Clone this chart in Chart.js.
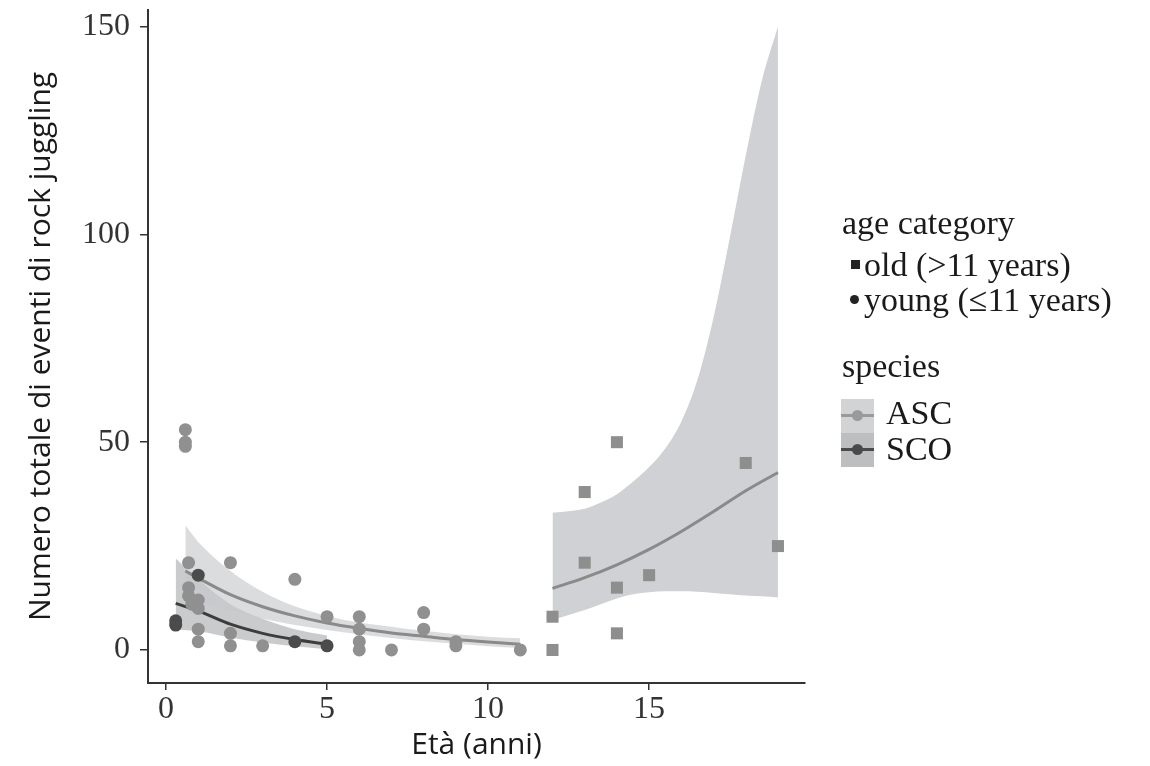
<!DOCTYPE html>
<html>
<head>
<meta charset="utf-8">
<script src="https://cdn.jsdelivr.net/npm/chart.js@4.4.0/dist/chart.umd.min.js"></script>
<style>
  body { margin: 0; background: #fff; }
  #wrap { position: relative; width: 1150px; height: 766px; }
  .lg { position: absolute; font-family: "Liberation Serif", "DejaVu Serif", serif; font-size: 34px; color: #1a1a1a; line-height: 34px; white-space: nowrap; }
  .sym { position: absolute; background: #222; }
  .key { position: absolute; width: 33px; height: 34px; }
  .kline { position: absolute; left: 0; top: 15px; width: 33px; height: 3px; }
  .kdot { position: absolute; left: 11px; top: 11px; width: 11px; height: 11px; border-radius: 50%; }
</style>
</head>
<body>
<div id="wrap">
  <canvas id="chart" width="1150" height="766"></canvas>
  <div class="lg" style="left:842px; top:206px;">age category</div>
  <div class="sym" style="left:851px; top:260px; width:9px; height:9px;"></div>
  <div class="lg" style="left:864px; top:248px;">old (&gt;11 years)</div>
  <div class="sym" style="left:850px; top:295px; width:9px; height:9px; border-radius:50%;"></div>
  <div class="lg" style="left:864px; top:283px;">young (≤11 years)</div>
  <div class="lg" style="left:842px; top:349px;">species</div>
  <div class="key" style="left:841px; top:399px; background:#d2d3d4;">
    <div class="kline" style="background:#9a9a9a;"></div><div class="kdot" style="background:#9a9a9a;"></div>
  </div>
  <div class="key" style="left:841px; top:433px; background:#bdbebf;">
    <div class="kline" style="background:#4a4a4a;"></div><div class="kdot" style="background:#4a4a4a;"></div>
  </div>
  <div class="lg" style="left:886px; top:396px;">ASC</div>
  <div class="lg" style="left:886px; top:432px;">SCO</div>
</div>
<script>
// --- DATI ---
// ASC giovani (cerchi grigi)
const ascYoungAge   = [0.6, 0.6, 0.6, 0.7, 0.7, 0.7, 0.8, 1, 1, 1, 1, 2, 2, 2, 3, 4, 5, 6, 6, 6, 6, 7, 8, 8, 9, 9, 11];
const ascYoungCount = [53, 50, 49, 21, 15, 13, 11, 12, 10, 5, 2, 21, 4, 1, 1, 17, 8, 8, 5, 2, 0, 0, 9, 5, 1, 2, 0];
// SCO giovani (cerchi scuri)
const scoYoungAge   = [0.3, 0.3, 1, 4, 5];
const scoYoungCount = [7, 6, 18, 2, 1];
// ASC vecchi (quadrati)
const oldAge   = [12, 12, 13, 13, 14, 14, 14, 15, 18, 19];
const oldCount = [8, 0, 38, 21, 50, 15, 4, 18, 45, 25];

// curve del modello + intervalli di confidenza
const ascFitAge   = [0.6, 1, 2, 3, 4, 5, 6, 7, 8, 9, 10, 11];
const ascFit      = [19, 17.3, 13.3, 10.4, 8.2, 6.5, 5.2, 4.1, 3.3, 2.5, 1.9, 1.4];
const ascUpper    = [30, 26, 19, 14, 10.5, 8.2, 6.6, 5.6, 4.6, 3.8, 3.2, 2.8];
const ascLower    = [12, 11.5, 9.5, 7.5, 6, 4.8, 3.8, 2.9, 2.1, 1.5, 0.9, 0.5];

const scoFitAge   = [0.3, 1, 2, 3, 4, 5];
const scoFit      = [11.2, 9.4, 6.2, 4.0, 2.5, 1.4];
const scoUpper    = [22, 17, 11, 7.5, 5, 3.5];
const scoLower    = [5, 4.5, 3, 1.8, 0.9, 0.2];

const oldFitAge   = [12, 13, 14, 15, 16, 17, 18, 19];
const oldFit      = [14.8, 17.4, 20.5, 24.2, 28.5, 33.3, 38.3, 42.7];
const oldBandAge  = [12, 13, 13.5, 14, 14.5, 15, 15.5, 16, 16.5, 17, 17.5, 18, 18.5, 19];
const oldUpper    = [33, 34, 35.5, 37.5, 40.5, 44, 48.5, 55, 65, 80, 99, 119, 137, 150];
const oldLower    = [7.2, 9.6, 11, 12.4, 13.4, 13.9, 14.1, 14.1, 14, 13.7, 13.4, 13.1, 12.9, 12.6];

const xTicks = [0, 5, 10, 15];
const yTicks = [0, 50, 100, 150];

function pts(xs, ys) {
    return xs.map((x, i) => ({ x: x, y: ys[i] }));
}

function band(xs, up, lo, color, order) {
    return [{
        data: pts(xs, up), showLine: true, pointRadius: 0, borderColor: "rgba(0,0,0,0)",
        backgroundColor: color, fill: "+1", cubicInterpolationMode: "monotone", order: order
    }, {
        data: pts(xs, lo), showLine: true, pointRadius: 0, borderColor: "rgba(0,0,0,0)",
        fill: false, cubicInterpolationMode: "monotone", order: order
    }];
}

function fitLine(xs, ys, color) {
    return {
        data: pts(xs, ys), showLine: true, pointRadius: 0, borderColor: color,
        borderWidth: 3, fill: false, cubicInterpolationMode: "monotone", order: 5
    };
}

const ctx = document.getElementById("chart").getContext("2d");

new Chart(ctx, {
    type: "scatter",
    data: {
        datasets: [
            ...band(oldBandAge, oldUpper, oldLower, "#cfd1d4", 12),
            ...band(scoFitAge, scoUpper, scoLower, "rgba(150,151,153,0.5)", 11),
            ...band(ascFitAge, ascUpper, ascLower, "rgba(200,202,205,0.65)", 10),
            fitLine(oldFitAge, oldFit, "#8a8a8a"),
            fitLine(ascFitAge, ascFit, "#8a8a8a"),
            fitLine(scoFitAge, scoFit, "#3d3d3d"),
            {
                data: pts(ascYoungAge, ascYoungCount), pointRadius: 6.5, pointStyle: "circle",
                backgroundColor: "#909090", borderWidth: 0, order: 2
            },
            {
                data: pts(scoYoungAge, scoYoungCount), pointRadius: 6.5, pointStyle: "circle",
                backgroundColor: "#4b4b4b", borderWidth: 0, order: 1
            },
            {
                data: pts(oldAge, oldCount), pointRadius: 8.5, pointStyle: "rect",
                backgroundColor: "#8e8e8e", borderWidth: 0, order: 2
            }
        ]
    },
    options: {
        responsive: false,
        animation: false,
        layout: { padding: { left: 0, right: 345, top: 10, bottom: 0 } },
        plugins: { legend: { display: false }, tooltip: { enabled: false } },
        scales: {
            x: {
                type: "linear",
                min: -0.56,
                max: 19.84,
                afterFit: (s) => { s.height = 83; s.paddingLeft = 0; s.paddingRight = 0; },
                afterBuildTicks: (s) => { s.ticks = xTicks.map(v => ({ value: v })); },
                grid: { display: true, drawOnChartArea: false, drawTicks: true, tickLength: 7, color: "#333", lineWidth: 1.5 },
                border: { display: true, color: "#333", width: 2 },
                ticks: { padding: 0, color: "#333", font: { family: "Liberation Serif", size: 32 } },
                title: {
                    display: true, text: "Età (anni)", color: "#1a1a1a",
                    font: { family: "Open Sans", size: 30 }, padding: { top: 0, bottom: 3 }
                }
            },
            y: {
                type: "linear",
                min: -7.95,
                max: 154,
                afterFit: (s) => { s.width = 148; s.paddingTop = 0; s.paddingBottom = 0; },
                afterBuildTicks: (s) => { s.ticks = yTicks.map(v => ({ value: v })); },
                grid: { display: true, drawOnChartArea: false, drawTicks: true, tickLength: 8, color: "#333", lineWidth: 1.5 },
                border: { display: true, color: "#333", width: 2 },
                ticks: { padding: 10, color: "#333", font: { family: "Liberation Serif", size: 32 } },
                title: {
                    display: true, text: "Numero totale di eventi di rock juggling", color: "#1a1a1a",
                    font: { family: "Open Sans", size: 30 }, padding: { top: 23, bottom: 0 }
                }
            }
        }
    }
});
</script>
</body>
</html>
